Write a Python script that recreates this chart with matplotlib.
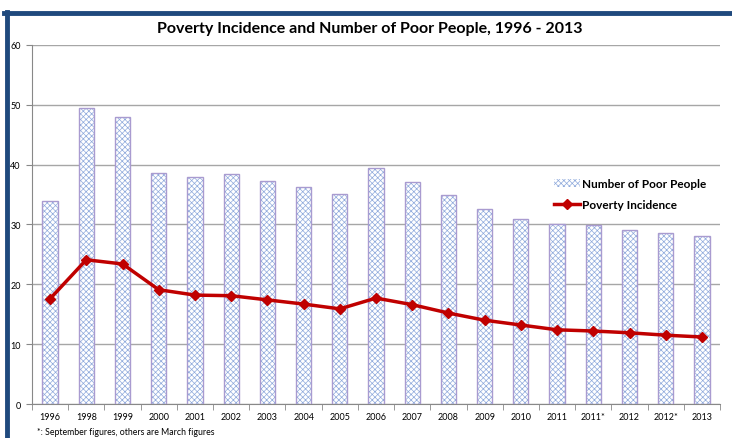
import numpy as np
import matplotlib.pyplot as plt
from matplotlib.lines import Line2D
from matplotlib.patches import Patch

years = ['1996', '1998', '1999', '2000', '2001', '2002', '2003', '2004', '2005', '2006',
         '2007', '2008', '2009', '2010', '2011', '2011*', '2012', '2012*', '2013']
poor_people = [33.9, 49.5, 48.0, 38.6, 38.0, 38.5, 37.3, 36.3, 35.1, 39.5,
               37.1, 34.9, 32.6, 30.9, 30.1, 29.9, 29.1, 28.6, 28.1]
incidence = [17.6, 24.1, 23.4, 19.1, 18.2, 18.1, 17.4, 16.7, 15.9, 17.7,
             16.6, 15.2, 14.0, 13.2, 12.4, 12.2, 11.9, 11.5, 11.2]

plt.rcParams['font.family'] = ['Lato', 'DejaVu Sans']
plt.rcParams['hatch.linewidth'] = 0.5

fig = plt.figure(figsize=(7.32, 4.39), dpi=100)
ax = fig.add_axes([0.0437, 0.0774, 0.940, 0.818])

x = np.arange(len(years))
w = 0.42
# hatched fill, then a lavender outline on top
ax.bar(x, poor_people, w, color='white', edgecolor='#8FAADC', hatch='xxxxxx', linewidth=0, zorder=2)
ax.bar(x, poor_people, w, fill=False, edgecolor='#A99BD0', linewidth=1.0, zorder=3)
ax.plot(x, incidence, color='#C00000', lw=2.5, marker='D', ms=5.5, zorder=4)

ax.set_xlim(-0.5, len(years) - 0.5)
ax.set_ylim(0, 60)
ax.set_yticks(range(0, 61, 10))
ax.set_xticks(x)
ax.set_xticklabels(years)
ax.set_xticks(np.arange(-0.5, len(years), 1), minor=True)
ax.tick_params(axis='x', which='major', length=0, labelsize=6.5, pad=6)
ax.tick_params(axis='x', which='minor', length=4, color='#888888', direction='out')
ax.tick_params(axis='y', length=4, color='#888888', labelsize=6.5, pad=4)
ax.grid(axis='y', color='#A6A6A6', lw=1, zorder=0)
ax.set_axisbelow(True)
for s in ['top', 'right']:
    ax.spines[s].set_visible(False)
for s in ['left', 'bottom']:
    ax.spines[s].set_color('#888888')

handles = [Patch(facecolor='white', edgecolor='#8FAADC', hatch='xxxxxx', lw=0),
           Line2D([0], [0], color='#C00000', lw=2.5, marker='D', ms=5.5)]
leg = ax.legend(handles, ['Number of Poor People', 'Poverty Incidence'],
                loc='center left', bbox_to_anchor=(0.745, 0.585), frameon=True,
                facecolor='white', edgecolor='none', framealpha=1,
                prop={'weight': 'bold', 'size': 8.5}, handlelength=2.2,
                handletextpad=0.2, labelspacing=0.8, borderpad=0.3)

fig.text(0.505, 0.935, 'Poverty Incidence and Number of Poor People, 1996 - 2013',
         ha='center', va='center', fontsize=11.5, weight='bold')
fig.text(0.05, 0.004, '*: September figures, others are March figures',
         ha='left', va='bottom', fontsize=6.3)

# dark blue frame at top and left
fig.add_artist(Line2D([0.006, 1.0], [0.967, 0.967], color='#1F497D', lw=3.5))
fig.add_artist(Line2D([0.009, 0.009], [0.0, 0.970], color='#1F497D', lw=3.5))

fig.savefig('out.png', dpi=100)
